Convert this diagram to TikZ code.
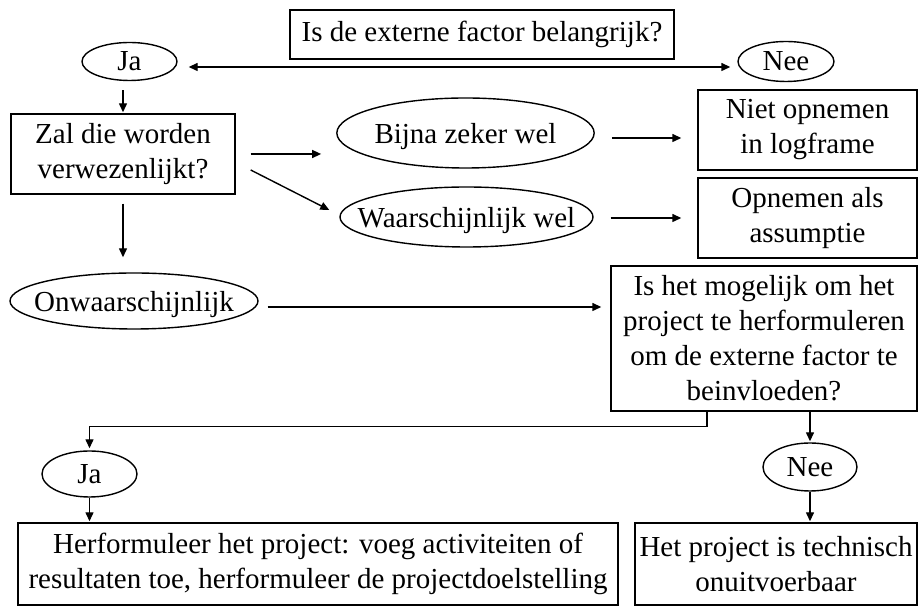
\documentclass[tikz,border=0pt]{standalone}
\usepackage{fontspec}
\setmainfont{Liberation Serif}
\usetikzlibrary{arrows.meta,shapes.geometric}

\tikzset{
  blok/.style={draw, rectangle, inner sep=0pt, align=center, line width=0.7pt},
  ovaal/.style={draw, ellipse, inner sep=0pt, text depth=0pt, line width=0.7pt},
  pijl/.style={-{Triangle[length=4.5pt,width=4pt]}, line width=0.7pt},
  dubbel/.style={{Triangle[length=4.5pt,width=4pt]}-{Triangle[length=4.5pt,width=4pt]}, line width=0.7pt}
}

\begin{document}
\begin{tikzpicture}[x=0.5pt,y=-0.5pt,font=\fontsize{14.5}{17.5}\selectfont]
\useasboundingbox (0,0) rectangle (918,608);
% bovenste rij
\node[blok, minimum width=192pt, minimum height=24.5pt] (vraag) at (482,34.5) {Is de externe factor belangrijk?};
\node[ovaal, minimum width=47.5pt, minimum height=19pt] (ja1) at (129.5,61.5) {Ja};
\node[ovaal, minimum width=48pt, minimum height=20pt] (nee1) at (786,61.5) {Nee};
\draw[dubbel, shorten <=5.5pt, shorten >=3.5pt] ([yshift=-2.75pt]ja1.east) -- ([yshift=-2.75pt]nee1.west);
% middelste deel
\node[blok, minimum width=112pt, minimum height=40pt] (zal) at (123,154) {Zal die worden\\verwezenlijkt?};
\node[ovaal, minimum width=127.5pt, minimum height=35pt] (bijna) at (465.5,133) {Bijna zeker wel};
\node[ovaal, inner xsep=-13.5pt, minimum width=126.5pt, minimum height=30pt] (waar) at (466.5,217) {Waarschijnlijk wel};
\node[blok, minimum width=109.5pt, minimum height=40pt] (niet) at (807.5,130) {Niet opnemen\\in logframe};
\node[blok, minimum width=109.5pt, minimum height=40pt] (opn) at (807.5,218) {Opnemen als\\assumptie};
\node[ovaal, inner xsep=-7.5pt, minimum width=124pt, minimum height=28pt] (onw) at (134,301) {Onwaarschijnlijk};
\node[blok, minimum width=153pt, minimum height=72.5pt] (mog) at (764,338.5) {Is het mogelijk om het\\project te herformuleren\\om de externe factor te\\beinvloeden?};
\draw[pijl, shorten <=4.5pt, shorten >=0.5pt] (zal.north |- ja1.south) -- (zal.north);
\draw[pijl, shorten <=7.5pt, shorten >=7.5pt] (zal.east) -- (zal.east -| bijna.west);
\draw[pijl] ([shift={(7.5pt,-8pt)}]zal.east) -- ([shift={(-5pt,3.5pt)}]waar.west);
\draw[pijl, shorten <=8.5pt, shorten >=8pt] ([yshift=-2.5pt]bijna.east) -- ([yshift=-2.5pt]bijna.east -| niet.west);
\draw[pijl, shorten <=8.5pt, shorten >=8pt] ([yshift=-0.5pt]waar.east) -- ([yshift=-0.5pt]waar.east -| opn.west);
\draw[pijl, shorten <=4.5pt, shorten >=7.5pt] (zal.south) -- (zal.south |- onw.north);
\draw[pijl, shorten <=4.5pt, shorten >=4.5pt] ([yshift=-3pt]onw.east) -- ([yshift=-3pt]onw.east -| mog.west);
% onderste rij
\node[ovaal, minimum width=47.5pt, minimum height=23pt] (ja2) at (89.5,474) {Ja};
\node[ovaal, minimum width=47pt, minimum height=24pt] (nee2) at (810,467) {Nee};
\node[blok, minimum width=300pt, minimum height=41pt] (her) at (318,564) {Herformuleer het project: voeg activiteiten of\\resultaten toe, herformuleer de projectdoelstelling};
\node[blok, minimum width=141pt, minimum height=41pt] (het) at (776,564) {Het project is technisch\\onuitvoerbaar};
\draw[pijl, shorten >=1pt] ([xshift=-28.5pt]mog.south) -- ++(0,15) -| (ja2.north);
\draw[pijl, shorten >=0.5pt] (nee2.north |- mog.south) -- (nee2.north);
\draw[pijl, shorten >=0.5pt] (ja2.south) -- (ja2.south |- her.north);
\draw[pijl, shorten >=0.5pt] (nee2.south) -- (nee2.south |- het.north);
\end{tikzpicture}
\end{document}
